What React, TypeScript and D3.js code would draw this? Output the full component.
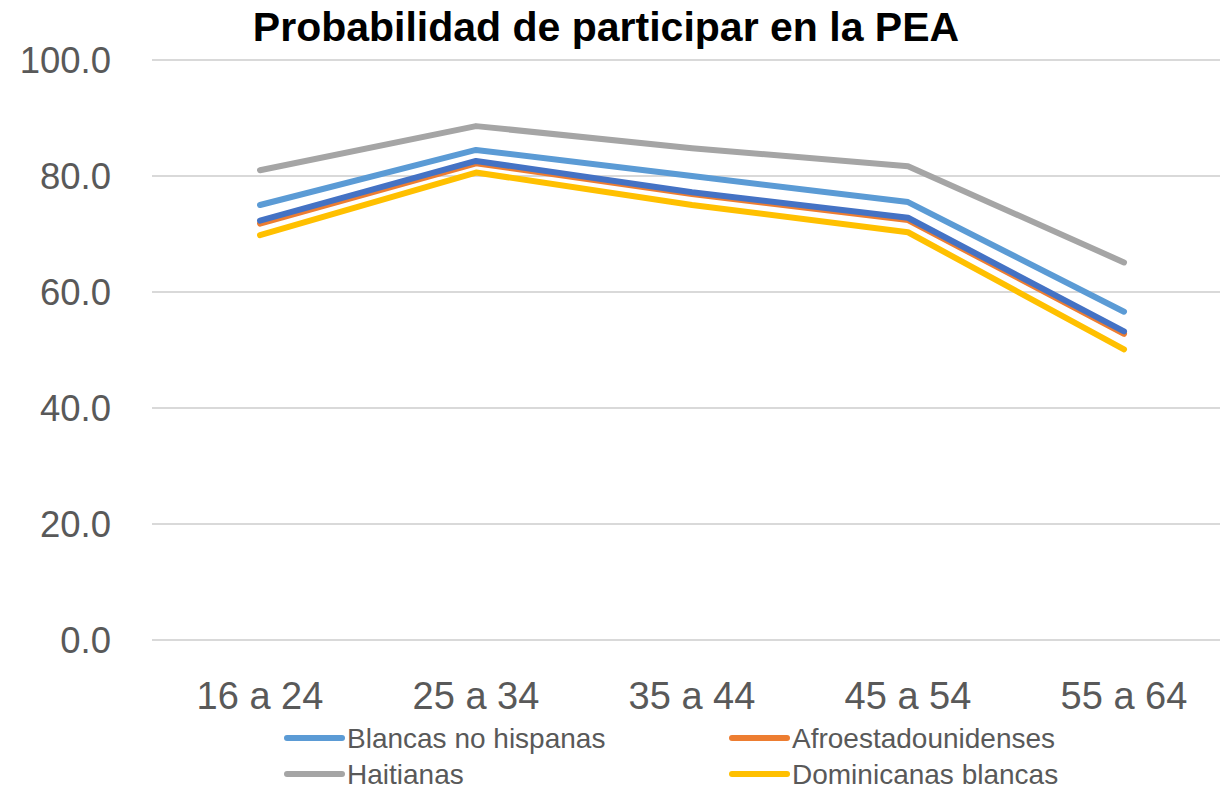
import React, { useEffect, useRef } from 'react';
import * as d3 from 'd3';

const categories = ['16 a 24', '25 a 34', '35 a 44', '45 a 54', '55 a 64'];
const yTicks = [0, 20, 40, 60, 80, 100];

const blancas = [75.0, 84.5, 80.0, 75.5, 56.6];
const afro = [71.8, 82.2, 76.9, 72.4, 52.8];
const haitianas = [81.0, 88.6, 84.8, 81.7, 65.1];
const dominicanas = [69.8, 80.6, 75.0, 70.3, 50.1];
const otra = [72.3, 82.6, 77.2, 72.8, 53.2];

const series = [
  { name: 'Blancas no hispanas', color: '#5B9BD5', values: blancas, legend: true },
  { name: 'Afroestadounidenses', color: '#ED7D31', values: afro, legend: true },
  { name: 'Haitianas', color: '#A5A5A5', values: haitianas, legend: true },
  { name: 'Dominicanas blancas', color: '#FFC000', values: dominicanas, legend: true },
  { name: '', color: '#4472C4', values: otra, legend: false },
];

const FONT = '"Liberation Sans", Arial, sans-serif';

export default function App() {
  const ref = useRef<SVGSVGElement>(null);

  useEffect(() => {
    document.body.style.margin = '0';
    const svg = d3.select(ref.current);
    svg.selectAll('*').remove();

    const left = 152;
    const right = 1232;
    const top = 60;
    const bottom = 640;

    const x = d3.scaleBand().domain(categories).range([left, right]);
    const y = d3.scaleLinear().domain([0, 100]).range([bottom, top]);

    svg.append('text')
      .attr('x', 606)
      .attr('y', 41)
      .attr('text-anchor', 'middle')
      .attr('font-family', FONT)
      .attr('font-weight', 'bold')
      .attr('font-size', 41)
      .attr('fill', '#000')
      .text('Probabilidad de participar en la PEA');

    const grid = svg.append('g');
    yTicks.forEach((t) => {
      grid.append('line')
        .attr('x1', left)
        .attr('x2', right)
        .attr('y1', y(t))
        .attr('y2', y(t))
        .attr('stroke', '#D9D9D9')
        .attr('stroke-width', 2);
      grid.append('text')
        .attr('x', 111)
        .attr('y', y(t))
        .attr('dy', '0.36em')
        .attr('text-anchor', 'end')
        .attr('font-family', FONT)
        .attr('font-size', 36.5)
        .attr('fill', '#595959')
        .text(t.toFixed(1));
    });

    categories.forEach((c) => {
      svg.append('text')
        .attr('x', x(c)! + x.bandwidth() / 2)
        .attr('y', 695)
        .attr('dy', '0.36em')
        .attr('text-anchor', 'middle')
        .attr('font-family', FONT)
        .attr('font-size', 38)
        .attr('fill', '#595959')
        .text(c);
    });

    const line = d3
      .line<number>()
      .x((d, i) => x(categories[i])! + x.bandwidth() / 2)
      .y((d) => y(d));

    series.forEach((s) => {
      svg.append('path')
        .datum(s.values)
        .attr('fill', 'none')
        .attr('stroke', s.color)
        .attr('stroke-width', 6)
        .attr('stroke-linecap', 'round')
        .attr('stroke-linejoin', 'round')
        .attr('d', line);
    });

    const legendPos = [
      { x: 287, y: 738 },
      { x: 732, y: 738 },
      { x: 287, y: 774 },
      { x: 732, y: 774 },
    ];
    series.filter((s) => s.legend).forEach((s, i) => {
      const p = legendPos[i];
      svg.append('line')
        .attr('x1', p.x)
        .attr('x2', p.x + 55)
        .attr('y1', p.y)
        .attr('y2', p.y)
        .attr('stroke', s.color)
        .attr('stroke-width', 6)
        .attr('stroke-linecap', 'round');
      svg.append('text')
        .attr('x', p.x + 60)
        .attr('y', p.y)
        .attr('dy', '0.36em')
        .attr('font-family', FONT)
        .attr('font-size', 28)
        .attr('fill', '#595959')
        .text(s.name);
    });
  }, []);

  return <svg ref={ref} width={1220} height={790} style={{ display: 'block' }} />;
}
